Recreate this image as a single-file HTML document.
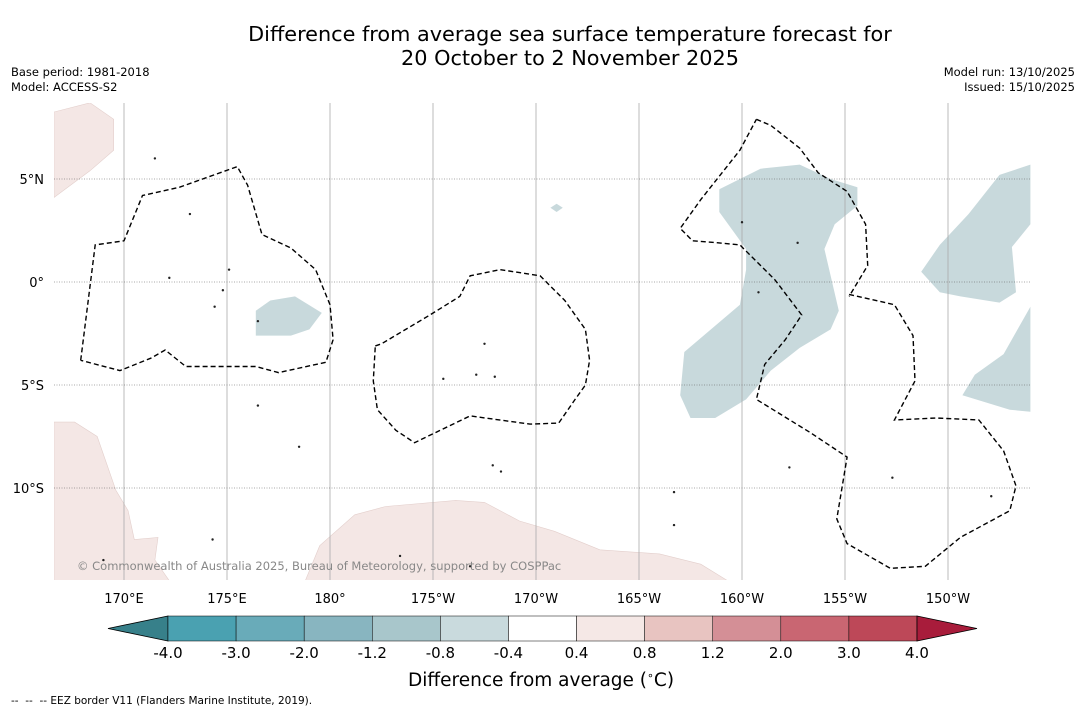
<!DOCTYPE html>
<html><head><meta charset="utf-8"><style>
body{margin:0;background:#fff;font-family:"DejaVu Sans","Liberation Sans",sans-serif;}
#wrap{position:relative;width:1085px;height:713px;overflow:hidden;background:#fff}
.t{position:absolute;white-space:nowrap;color:#000}
svg text{font-family:"DejaVu Sans","Liberation Sans",sans-serif}
</style></head><body>
<div id="wrap">
<div class="t" style="left:0;width:1140px;text-align:center;top:22px;font-size:20.8px;line-height:24px">Difference from average sea surface temperature forecast for<br>20 October to 2 November 2025</div>
<div class="t" style="left:11px;top:65px;font-size:11.5px;line-height:15px">Base period: 1981-2018<br>Model: ACCESS-S2</div>
<div class="t" style="right:10px;top:65px;font-size:11.5px;line-height:15px;text-align:right">Model run: 13/10/2025<br>Issued: 15/10/2025</div>
<svg id="svg" width="1085" height="713" style="position:absolute;left:0;top:0"></svg>
<div class="t" style="left:408px;top:669px;font-size:18.5px">Difference from average (<sup style="font-size:11px">∘</sup>C)</div>
<div class="t" style="left:11px;top:695px;font-size:10.5px">--&nbsp; --&nbsp; -- EEZ border V11 (Flanders Marine Institute, 2019).</div>
</div>
<script>
const lonTicks=[170,175,180,185,190,195,200,205,210];
const lonTickLabels=["170°E","175°E","180°","175°W","170°W","165°W","160°W","155°W","150°W"];
const latTicks=[5,0,-5,-10];
const latTickLabels=["5°N","0°","5°S","10°S"];
const cbLevels=["-4.0","-3.0","-2.0","-1.2","-0.8","-0.4","0.4","0.8","1.2","2.0","3.0","4.0"];
const cbColors=["#4aa1b1","#69abb9","#88b5c0","#a8c6cb","#c9dadd","#ffffff","#f5e8e6","#e8c4c1","#d48f96","#c96672","#bd4858"];
const cbLow="#37808a", cbHigh="#a81c3b";
const bluePolys=[
[[198.9,4.5],[200.9,5.5],[202.8,5.7],[204.3,5.0],[205.6,4.6],[205.6,3.7],[204.5,2.8],[204.0,1.6],[204.7,-1.4],[204.3,-2.3],[202.8,-3.2],[201.4,-4.3],[200.2,-5.7],[198.7,-6.6],[197.5,-6.6],[197.0,-5.5],[197.2,-3.4],[199.9,-1.1],[200.2,0.6],[200.2,1.6],[198.9,3.4]],
[[208.7,0.5],[209.6,1.8],[211.0,3.3],[212.5,5.2],[214.0,5.7],[214.0,2.8],[213.1,1.7],[213.3,-0.5],[212.5,-1.0],[210.6,-0.7],[209.6,-0.5]],
[[210.7,-5.5],[211.3,-4.5],[212.7,-3.5],[214.0,-1.2],[214.0,-6.3],[213.0,-6.2]],
[[176.4,-1.4],[177.1,-0.9],[178.3,-0.7],[179.6,-1.5],[179.0,-2.3],[178.1,-2.6],[176.4,-2.6]],
[[190.7,3.6],[191.0,3.8],[191.3,3.6],[191.0,3.4]]
];
const pinkPolys=[
[[166.6,8.25],[168.35,8.7],[169.5,7.9],[169.5,6.4],[168.35,5.4],[166.6,4.1]],
[[166.6,-6.8],[167.6,-6.8],[168.7,-7.5],[169.6,-10.1],[170.2,-11.1],[170.5,-12.5],[171.65,-12.4],[171.5,-13.5],[172.2,-14.5],[166.6,-14.5]],
[[178.8,-14.5],[179.5,-12.8],[181.2,-11.3],[182.7,-10.9],[186.1,-10.6],[187.5,-10.7],[189.2,-11.6],[190.9,-12.1],[193.1,-13.0],[196.0,-13.2],[198.0,-13.7],[199.3,-14.5]]
];
const eezLines=[
[[167.9,-3.8],[168.6,1.8],[170.0,2.0],[170.9,4.2],[172.7,4.6],[175.5,5.6],[176.0,4.7],[176.7,2.3],[178.1,1.65],[179.3,0.6],[180.0,-1.1],[180.15,-2.8],[179.8,-3.9],[177.5,-4.4],[176.4,-4.1],[173.0,-4.1],[172.0,-3.3],[171.3,-3.7],[169.8,-4.3],[167.9,-3.8]],
[[182.2,-3.1],[182.5,-3.0],[184.85,-1.6],[186.3,-0.7],[186.8,0.3],[188.25,0.6],[190.2,0.3],[191.4,-0.9],[192.4,-2.3],[192.6,-3.8],[192.4,-5.0],[191.9,-5.7],[191.1,-6.85],[189.7,-6.9],[186.8,-6.5],[184.1,-7.8],[183.2,-7.2],[182.3,-6.2],[182.1,-4.8],[182.2,-3.1]],
[[200.7,7.9],[201.4,7.6],[202.8,6.5],[203.7,5.3],[205.1,4.4],[206.0,2.8],[206.1,0.8],[205.2,-0.7]],
[[205.2,-0.6],[207.4,-1.1],[208.3,-2.6],[208.4,-4.8],[207.4,-6.7],[209.4,-6.6],[211.5,-6.7],[212.7,-8.2],[213.3,-9.9],[213.0,-11.1],[210.6,-12.4],[208.9,-13.8],[207.2,-13.9],[205.1,-12.7],[204.6,-11.5],[205.1,-8.5],[203.3,-7.3],[200.7,-5.7],[201.1,-4.0],[202.1,-2.8],[202.9,-1.6],[201.6,0.1],[199.9,1.8],[198.9,1.9],[197.6,2.0],[197.0,2.6],[198.0,4.0],[199.9,6.4],[200.7,7.9]]
];
const islands=[[174.4,-1.2],[174.8,-0.4],[175.1,0.6],[176.5,-1.9],[187.5,-3.0],[185.5,-4.7],[187.1,-4.5],[188.0,-4.6],[187.9,-8.9],[188.3,-9.2],[196.7,-11.8],[200.0,2.9],[202.7,1.9],[202.3,-9.0],[207.3,-9.5],[212.1,-10.4],[172.2,0.2],[171.5,6.0],[173.2,3.3],[178.5,-8.0],[176.5,-6.0],[200.8,-0.5],[196.7,-10.2],[186.8,-13.8],[183.4,-13.3],[174.3,-12.5],[169.0,-13.5]];

const X0=54,X1=1031,Y0=103,Y1=580;
const xs=lon=>330+(lon-180)*20.6;
const ys=lat=>282-lat*20.6;
const svg=document.getElementById('svg');
const NS='http://www.w3.org/2000/svg';
function mk(tag,attrs,parent){const e=document.createElementNS(NS,tag);for(const k in attrs)e.setAttribute(k,attrs[k]);(parent||svg).appendChild(e);return e;}
const pts=p=>p.map(q=>xs(q[0]).toFixed(1)+','+ys(q[1]).toFixed(1)).join(' ');
const defs=mk('defs',{});const cp=mk('clipPath',{id:'clip'},defs);mk('rect',{x:X0,y:Y0,width:X1-X0,height:Y1-Y0},cp);
const g=mk('g',{'clip-path':'url(#clip)'});
pinkPolys.forEach(p=>{const e=mk('polygon',{points:pts(p),fill:'#f4e7e5',stroke:'#e3cfcc','stroke-width':0.6},g);

});
bluePolys.forEach(p=>{const e=mk('polygon',{points:pts(p),fill:'#c8d9dc'},g);

});
lonTicks.forEach((l,i)=>{const e=mk('line',{x1:xs(l),x2:xs(l),y1:Y0,y2:Y1,stroke:'#aaa','stroke-width':0.8},g);


const t=mk('text',{x:xs(l),y:603,'text-anchor':'middle','font-size':13});t.textContent=lonTickLabels[i];

});
latTicks.forEach((l,i)=>{const e=mk('line',{x1:X0,x2:X1,y1:ys(l),y2:ys(l),stroke:'#555','stroke-width':0.6,'stroke-dasharray':'1,1.5'},g);


const t=mk('text',{x:44,y:ys(l)+5,'text-anchor':'end','font-size':13});t.textContent=latTickLabels[i];

});
eezLines.forEach(p=>{const e=mk('polyline',{points:pts(p),fill:'none',stroke:'#000','stroke-width':1.4,'stroke-dasharray':'5,3'},g);

});
islands.forEach(p=>{const e=mk('circle',{cx:xs(p[0]),cy:ys(p[1]),r:1.2,fill:'#222'},g);

});
const ct=mk('text',{x:77,y:570,'font-size':11.5,fill:'#888'});ct.textContent='© Commonwealth of Australia 2025, Bureau of Meteorology, supported by COSPPac';


const cbX0=168,cbW=68.09,cbY=616,cbH=25;
const lt=mk('polygon',{points:`108,${cbY+cbH/2} ${cbX0},${cbY} ${cbX0},${cbY+cbH}`,fill:cbLow,stroke:'#000','stroke-width':0.8});


cbColors.forEach((c,i)=>{const r=mk('rect',{x:cbX0+i*cbW,y:cbY,width:cbW,height:cbH,fill:c,stroke:'#000','stroke-width':0.5});

});
const xe=cbX0+cbColors.length*cbW;
const ht=mk('polygon',{points:`${xe},${cbY} ${xe+60},${cbY+cbH/2} ${xe},${cbY+cbH}`,fill:cbHigh,stroke:'#000','stroke-width':0.8});


cbLevels.forEach((l,i)=>{const t=mk('text',{x:cbX0+i*cbW,y:658,'text-anchor':'middle','font-size':15});t.textContent=l;

});
</script>
</body></html>
